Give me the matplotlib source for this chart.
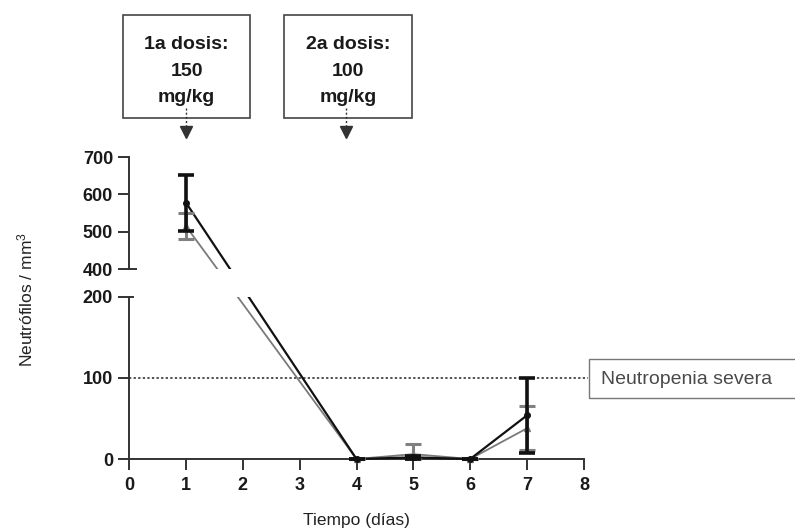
import numpy as np
import matplotlib
matplotlib.use("Agg")
import matplotlib.pyplot as plt
from matplotlib.lines import Line2D
from matplotlib.patches import Rectangle
from matplotlib.transforms import Bbox, TransformedBbox

plt.rcParams['font.family'] = ['Liberation Sans', 'DejaVu Sans']
plt.rcParams['mathtext.default'] = 'regular'

# ---- data ----
days = [1, 4, 5, 6, 7]
black_mean = [578, 0, 2, 0, 54]
black_sem = [75, 0, 2, 0, 46]
gray_mean = [515, 0, 6, 0, 38]
gray_sem = [34, 0, 12, 0, 27]
x_ticks = [0, 1, 2, 3, 4, 5, 6, 7, 8]
top_ticks = [400, 500, 600, 700]
bot_ticks = [0, 100, 200]
threshold = 100
threshold_label = "Neutropenia severa"
dose_labels = ["1a dosis:\n150\nmg/kg", "2a dosis:\n100\nmg/kg"]

W, H = 795, 531
fig = plt.figure(figsize=(W / 100, H / 100), dpi=100)

def fx(px):
    return px / W

def fy(py):
    return 1 - py / H

x0, x1 = 129, 584
ax_bot = fig.add_axes([fx(x0), fy(459), fx(x1) - fx(x0), fy(297) - fy(459)])
ax_top = fig.add_axes([fx(x0), fy(269), fx(x1) - fx(x0), fy(157) - fy(269)])

spine_col = '#333333'
for ax in (ax_bot, ax_top):
    ax.set_xlim(0, 8)
    ax.patch.set_alpha(0)
    for s in ('top', 'right'):
        ax.spines[s].set_visible(False)
    ax.spines['left'].set_color(spine_col)
    ax.spines['left'].set_linewidth(1.4)
    ax.tick_params(axis='y', length=8, width=1.4, color=spine_col, pad=3.5,
                   labelsize=13)

ax_bot.set_ylim(0, 200)
ax_top.set_ylim(400, 700)
ax_bot.set_yticks(bot_ticks)
ax_top.set_yticks(top_ticks)
ax_bot.set_xticks(x_ticks)
ax_bot.spines['bottom'].set_color(spine_col)
ax_bot.spines['bottom'].set_linewidth(1.4)
ax_bot.tick_params(axis='x', length=8, width=1.4, color=spine_col, pad=5,
                   labelsize=13)
ax_top.spines['bottom'].set_visible(False)
ax_top.set_xticks([])
for ax in (ax_bot, ax_top):
    for lab in ax.get_yticklabels() + ax.get_xticklabels():
        lab.set_fontweight('bold')
        lab.set_color('#1a1a1a')

# break ends: short horizontal marks to the right of the spine
ax_top.plot([0, 0.14], [400, 400], color=spine_col, lw=1.4, clip_on=False,
            solid_capstyle='butt')
ax_bot.plot([0, 0.09], [200, 200], color=spine_col, lw=1.4, clip_on=False,
            solid_capstyle='butt')

# threshold line
ax_bot.plot([0, 8.07], [threshold, threshold], color='#222222', lw=1.1,
            ls=(0, (1.5, 1.5)), clip_on=False, zorder=1)

# ---- series lines crossing the break (straight in display space) ----
inv = fig.transFigure.inverted()

def to_fig(x, y):
    ax = ax_top if y >= 300 else ax_bot
    return inv.transform(ax.transData.transform((x, y)))

def draw_series(mean, color, lw, z):
    pts = np.array([to_fig(x, y) for x, y in zip(days, mean)])
    for ax, (ylo, yhi) in ((ax_top, (400, 720)), (ax_bot, (-10, 200))):
        ln = Line2D(pts[:, 0], pts[:, 1], transform=fig.transFigure,
                    color=color, lw=lw, zorder=z)
        ax.add_line(ln)
        ln.set_clip_path(None)
        ln.set_clip_box(TransformedBbox(Bbox([[-1, ylo], [9, yhi]]), ax.transData))

def draw_err(mean, sem, color, lw, marker, ms, z):
    mean = np.array(mean, float)
    sem = np.array(sem, float)
    lower = np.minimum(sem, mean)
    d = np.array(days)
    for ax, sel in ((ax_top, mean >= 300), (ax_bot, mean < 300)):
        ax.errorbar(d[sel], mean[sel], yerr=[lower[sel], sem[sel]],
                    fmt=marker, ms=ms, color=color, ecolor=color, elinewidth=lw,
                    capsize=6, capthick=lw, clip_on=False, zorder=z)

draw_series(gray_mean, '#7a7a7a', 1.3, 3)
draw_series(black_mean, '#111111', 1.6, 4)
draw_err(gray_mean, gray_sem, '#808080', 2.2, '^', 4, 5)
draw_err(black_mean, black_sem, '#111111', 2.6, 'o', 4, 6)

# ---- labels ----
fig.text(fx(25), fy(300), "Neutrófilos / mm$^3$", rotation=90, ha='center',
         va='center', fontsize=12.5, color='#222222')
fig.text(fx(356), fy(521), "Tiempo (días)", ha='center', va='center',
         fontsize=12.5, color='#222222')

# threshold box
fig.add_artist(Rectangle((fx(589), fy(398)), fx(W + 10) - fx(589),
                         fy(359) - fy(398), transform=fig.transFigure,
                         fill=False, edgecolor='#777777', lw=1.0))
fig.text(fx(601), fy(379), threshold_label, ha='left', va='center',
         fontsize=14, color='#4a4a4a')

# dose boxes with arrows
box_specs = [(123, 250, 1.0), (284, 412, 3.82)]
for (bl, br, xd), txt in zip(box_specs, dose_labels):
    fig.add_artist(Rectangle((fx(bl), fy(118)), fx(br) - fx(bl), fy(15) - fy(118),
                             transform=fig.transFigure, fill=False,
                             edgecolor='#444444', lw=1.2))
    cx = (bl + br) / 2
    fig.text(fx(cx), fy(71), txt, ha='center', va='center', fontsize=14,
             fontweight='bold', color='#1a1a1a', linespacing=1.72)
    ax_x = inv.transform(ax_top.transData.transform((xd, 700)))[0]
    fig.add_artist(Line2D([ax_x, ax_x], [fy(108), fy(130)], transform=fig.transFigure,
                          color='#333333', lw=1.0, ls=(0, (1.5, 1.5))))
    fig.add_artist(Line2D([ax_x], [fy(132)], transform=fig.transFigure,
                          marker='v', ms=8, color='#333333', lw=0))

fig.savefig("out.png", dpi=100)
